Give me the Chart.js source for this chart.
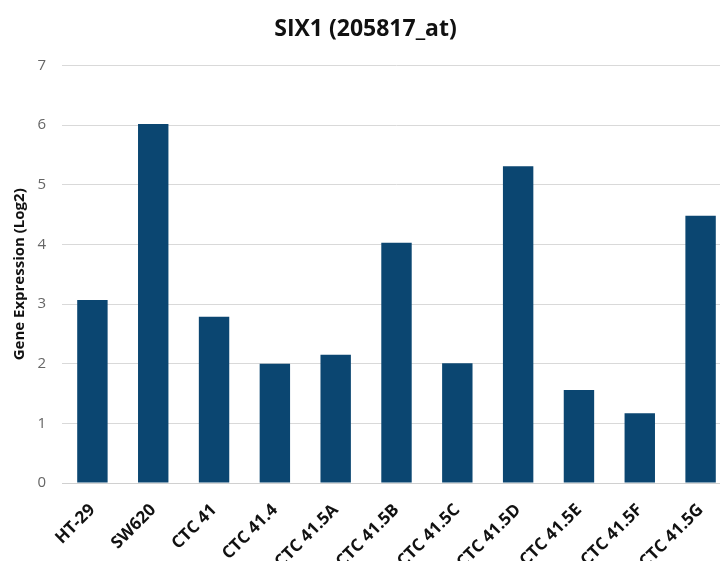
<!DOCTYPE html>
<html>
<head>
<meta charset="utf-8">
<script src="https://cdn.jsdelivr.net/npm/chart.js@4"></script>
<style>
  html, body { margin: 0; padding: 0; background: #fff; overflow: hidden; }
  /* plot runs a little past the right edge of the page */
  #wrap { width: 731px; height: 561px; }
</style>
</head>
<body>
<div id="wrap"><canvas id="six1Chart"></canvas></div>
<script>
// SIX1 expression per cell line
const samples = ['HT-29', 'SW620', 'CTC 41', 'CTC 41.4', 'CTC 41.5A', 'CTC 41.5B', 'CTC 41.5C', 'CTC 41.5D', 'CTC 41.5E', 'CTC 41.5F', 'CTC 41.5G'];
const expression = [3.07, 6.02, 2.79, 2.0, 2.15, 4.03, 2.01, 5.31, 1.56, 1.17, 4.48];
const yTicks = [0, 1, 2, 3, 4, 5, 6, 7];

const fontFamily = '"Open Sans", Calibri, sans-serif';

const ctx = document.getElementById('six1Chart').getContext('2d');
new Chart(ctx, {
  type: 'bar',
  data: {
    labels: samples,
    datasets: [{
      label: 'SIX1 (205817_at)',
      data: expression,
      backgroundColor: '#0b4671',
      categoryPercentage: 1.0,
      barPercentage: 0.5
    }]
  },
  options: {
    responsive: true,
    maintainAspectRatio: false,
    animation: false,
    layout: { padding: { top: 8, right: 0, left: 0, bottom: 0 } },
    plugins: {
      legend: { display: false },
      tooltip: { enabled: false },
      title: {
        display: true,
        text: 'SIX1 (205817_at)',
        color: '#111',
        font: { family: fontFamily, size: 23, weight: 'bold' },
        padding: { top: 8, bottom: 22 }
      }
    },
    scales: {
      x: {
        grid: { display: false },
        border: { display: true, color: '#d0d0d0', width: 1 },
        ticks: {
          color: '#111',
          font: { family: fontFamily, size: 17, weight: 'bold' },
          maxRotation: 45,
          minRotation: 45,
          autoSkip: false,
          padding: 9
        },
        afterFit: scale => { scale.height = 78; }
      },
      y: {
        min: 0,
        max: 7,
        afterBuildTicks: scale => { scale.ticks = yTicks.map(v => ({ value: v })); },
        grid: { color: '#d9d9d9', drawTicks: false },
        border: { display: false },
        ticks: {
          color: '#666',
          font: { family: fontFamily, size: 15 },
          padding: 16
        },
        title: {
          display: true,
          text: 'Gene Expression (Log2)',
          color: '#111',
          font: { family: fontFamily, size: 15, weight: 'bold' },
          padding: { top: 11, bottom: 0 }
        },
        afterFit: scale => { scale.width = 62; }
      }
    }
  }
});
</script>
</body>
</html>
